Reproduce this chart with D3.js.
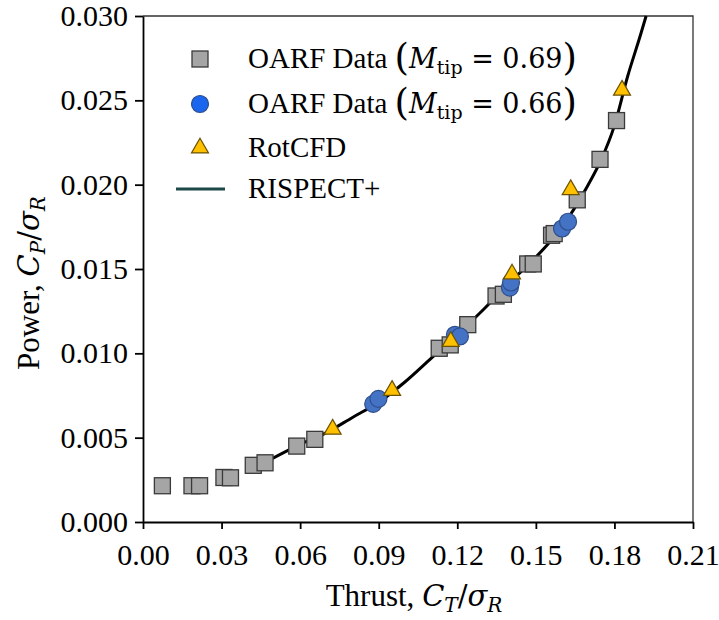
<!DOCTYPE html>
<html>
<head>
<meta charset="utf-8">
<script src="https://cdn.jsdelivr.net/npm/d3@7"></script>
<style>
  body { margin: 0; background: #fff; }
  svg { display: block; }
</style>
</head>
<body>
<svg id="chart"></svg>
<script>
// axis ticks
const xTicks = [0, 0.03, 0.06, 0.09, 0.12, 0.15, 0.18, 0.21];
const yTicks = [0, 0.005, 0.010, 0.015, 0.020, 0.025, 0.030];

// OARF data, Mtip = 0.69 (squares) [CT/sigma, CP/sigma]
const oarf069 = [
  [0.0074, 0.00215], [0.0187, 0.00215], [0.0216, 0.00215], [0.0309, 0.00264],
  [0.0334, 0.00262], [0.0421, 0.00336], [0.0466, 0.00351], [0.0587, 0.0045],
  [0.0656, 0.0049], [0.1131, 0.0103], [0.1173, 0.0105], [0.1240, 0.0117],
  [0.1348, 0.0134], [0.1376, 0.0135], [0.1469, 0.0153], [0.1490, 0.0153],
  [0.1560, 0.0170], [0.1570, 0.0171], [0.1658, 0.0191], [0.1745, 0.0215],
  [0.1808, 0.0238]
];
// OARF data, Mtip = 0.66 (circles)
const oarf066 = [
  [0.0879, 0.0070], [0.0899, 0.0073], [0.1191, 0.0111], [0.1210, 0.0110],
  [0.1401, 0.0139], [0.1405, 0.0142], [0.1600, 0.0174], [0.1623, 0.0178]
];
// RotCFD (triangles)
const rotcfd = [
  [0.0724, 0.0055], [0.0951, 0.0078], [0.1175, 0.0107],
  [0.1409, 0.0147], [0.1633, 0.0197], [0.1829, 0.0256]
];
// RISPECT+ curve
const rispect = [
  [0.045, 0.0034], [0.06, 0.0046], [0.07, 0.0053], [0.08, 0.0062],
  [0.09, 0.0071], [0.10, 0.0083], [0.11, 0.0097], [0.12, 0.0111],
  [0.13, 0.0126], [0.14, 0.0142], [0.15, 0.0157], [0.16, 0.0175],
  [0.17, 0.0200], [0.175, 0.0215], [0.18, 0.0235], [0.185, 0.0264],
  [0.19, 0.0289], [0.1921, 0.0300]
];

const W = 719, H = 620;
const margin = { top: 16, right: 26, bottom: 98, left: 143 };
const width = W - margin.left - margin.right;
const height = H - margin.top - margin.bottom;
const FONT = '"Liberation Serif", "Times New Roman", serif';
const MATH = '"DejaVu Serif", serif';

const svg = d3.select('#chart').attr('width', W).attr('height', H)
  .style('font-family', FONT);
const g = svg.append('g').attr('transform', `translate(${margin.left},${margin.top})`);

const x = d3.scaleLinear().domain([0, 0.21]).range([0, width]);
const y = d3.scaleLinear().domain([0, 0.030]).range([height, 0]);

// frame (top / right)
g.append('path')
  .attr('d', `M0,0H${width}V${height}`)
  .attr('fill', 'none').attr('stroke', '#333').attr('stroke-width', 1.3);

// axes
const xAxis = g.append('g')
  .attr('transform', `translate(0,${height})`)
  .call(d3.axisBottom(x).tickValues(xTicks).tickFormat(d3.format('.2f'))
    .tickSizeInner(7).tickSizeOuter(0).tickPadding(15));
const yAxis = g.append('g')
  .call(d3.axisLeft(y).tickValues(yTicks).tickFormat(d3.format('.3f'))
    .tickSizeInner(8).tickSizeOuter(0).tickPadding(7));

[xAxis, yAxis].forEach(a => {
  a.attr('font-family', FONT).attr('font-size', 30);
  a.selectAll('path, line').attr('stroke', '#000').attr('stroke-width', 1.8);
  a.selectAll('text').attr('fill', '#000');
});

// mixed upright / italic / subscript text
function richText(sel, parts) {
  parts.forEach(p => {
    const ts = sel.append('tspan').text(p.t);
    if (p.math) ts.attr('font-family', MATH);
    if (p.italic) ts.attr('font-style', 'italic');
    if (p.size) ts.attr('font-size', p.size);
    if (p.dy) ts.attr('dy', p.dy);
  });
}

const titleParts = (word, sub) => [
  { t: word + ' ' },
  { t: 'C', math: true, italic: true, size: 29 },
  { t: sub, math: true, italic: true, size: 20, dy: 6 },
  { t: '/', math: true, size: 29, dy: -6 },
  { t: 'σ', math: true, italic: true, size: 29 },
  { t: 'R', math: true, italic: true, size: 20, dy: 6 }
];

// axis titles
const xTitle = svg.append('text')
  .attr('x', margin.left + width / 2 - 4).attr('y', 606)
  .attr('text-anchor', 'middle').attr('font-size', 31);
richText(xTitle, titleParts('Thrust,', 'T'));

const yTitle = svg.append('text')
  .attr('transform', `translate(39,${margin.top + height / 2 + 14}) rotate(-90)`)
  .attr('text-anchor', 'middle').attr('font-size', 31);
richText(yTitle, titleParts('Power,', 'P'));

// RISPECT+ curve
const line = d3.line()
  .x(d => x(d[0])).y(d => y(d[1]))
  .curve(d3.curveMonotoneX);
g.append('path')
  .datum(rispect)
  .attr('fill', 'none').attr('stroke', '#000').attr('stroke-width', 3)
  .attr('d', line);

// markers
const SQ = 16;
const triangle = d3.symbol().type(d3.symbolTriangle).size(125);

g.append('g').selectAll('rect')
  .data(oarf069).join('rect')
  .attr('x', d => x(d[0]) - SQ / 2).attr('y', d => y(d[1]) - SQ / 2)
  .attr('width', SQ).attr('height', SQ)
  .attr('fill', '#a5a5a5').attr('stroke', '#3a3a3a').attr('stroke-width', 1.3);

g.append('g').selectAll('circle')
  .data(oarf066).join('circle')
  .attr('cx', d => x(d[0])).attr('cy', d => y(d[1])).attr('r', 8.5)
  .attr('fill', '#4472c4').attr('stroke', '#2f4f8a').attr('stroke-width', 1.2);

g.append('g').selectAll('path')
  .data(rotcfd).join('path')
  .attr('transform', d => `translate(${x(d[0])},${y(d[1])})`)
  .attr('d', triangle)
  .attr('fill', '#ffc000').attr('stroke', '#6b5200').attr('stroke-width', 1.2);

// legend
const oarfLabel = m => [
  { t: 'OARF Data ' },
  { t: '(', math: true, size: 37, dy: 2 },
  { t: 'M', math: true, italic: true, size: 27, dy: -2 },
  { t: 'tip', math: true, size: 19, dy: 6 },
  { t: ' = ' + m, math: true, size: 27, dy: -6 },
  { t: ')', math: true, size: 37, dy: 2 }
];
const legendLabels = [oarfLabel('0.69'), oarfLabel('0.66'), [{ t: 'RotCFD' }], [{ t: 'RISPECT+' }]];
const legendY = [59, 104, 148, 189];
const lx = 200;

svg.append('rect')
  .attr('x', lx - SQ / 2).attr('y', legendY[0] - SQ / 2).attr('width', SQ).attr('height', SQ)
  .attr('fill', '#a5a5a5').attr('stroke', '#3a3a3a').attr('stroke-width', 1.3);
svg.append('circle')
  .attr('cx', lx).attr('cy', legendY[1]).attr('r', 8.5)
  .attr('fill', '#1a66ee').attr('stroke', '#2f4f8a').attr('stroke-width', 1.2);
svg.append('path')
  .attr('transform', `translate(${lx},${legendY[2]})`).attr('d', triangle)
  .attr('fill', '#ffc000').attr('stroke', '#6b5200').attr('stroke-width', 1.2);
svg.append('line')
  .attr('x1', lx - 24).attr('x2', lx + 25).attr('y1', legendY[3]).attr('y2', legendY[3])
  .attr('stroke', '#1c4848').attr('stroke-width', 3);

legendLabels.forEach((parts, i) => {
  const t = svg.append('text')
    .attr('x', 248).attr('y', legendY[i] + 9).attr('font-size', 29).attr('fill', '#000');
  richText(t, parts);
});
</script>
</body>
</html>
